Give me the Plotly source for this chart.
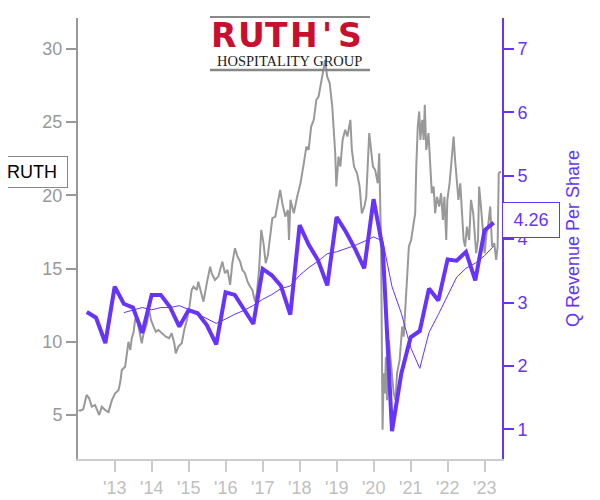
import pandas as pd
import plotly.graph_objects as go

# ---------------- data ----------------
# RUTH share price (decimal year, price)
price_t = [2012.02, 2012.065, 2012.15, 2012.24, 2012.31, 2012.38, 2012.47, 2012.58, 2012.65, 2012.74,
           2012.83, 2012.92, 2013.01, 2013.10, 2013.15, 2013.19, 2013.28, 2013.32, 2013.37, 2013.42,
           2013.46, 2013.51, 2013.55, 2013.59, 2013.64, 2013.69, 2013.73, 2013.78, 2013.86, 2013.93,
           2013.98, 2014.05, 2014.11, 2014.18, 2014.27, 2014.38, 2014.47, 2014.54, 2014.61, 2014.65,
           2014.72, 2014.81, 2014.88, 2014.95, 2015.02, 2015.08, 2015.13, 2015.22, 2015.26, 2015.35,
           2015.40, 2015.49, 2015.58, 2015.62, 2015.71, 2015.80, 2015.91, 2015.98, 2016.05, 2016.12,
           2016.18, 2016.25, 2016.32, 2016.39, 2016.45, 2016.52, 2016.59, 2016.66, 2016.72, 2016.79,
           2016.84, 2016.90, 2016.96, 2017.02, 2017.08, 2017.14, 2017.20, 2017.26, 2017.34, 2017.41,
           2017.47, 2017.53, 2017.61, 2017.68, 2017.71, 2017.75, 2017.84, 2017.93, 2018.02, 2018.11,
           2018.18, 2018.24, 2018.31, 2018.38, 2018.45, 2018.51, 2018.58, 2018.63, 2018.69, 2018.74,
           2018.81, 2018.88, 2018.92, 2018.96, 2018.99, 2019.05, 2019.10, 2019.16, 2019.23, 2019.29,
           2019.37, 2019.41, 2019.47, 2019.55, 2019.62, 2019.68, 2019.75, 2019.80, 2019.88, 2019.93,
           2019.98, 2020.04, 2020.11, 2020.15, 2020.18, 2020.20, 2020.22, 2020.24, 2020.27, 2020.30,
           2020.33, 2020.36, 2020.41, 2020.45, 2020.50, 2020.54, 2020.59, 2020.63, 2020.70, 2020.77,
           2020.81, 2020.86, 2020.90, 2020.95, 2021.01, 2021.07, 2021.12, 2021.15, 2021.19, 2021.23,
           2021.26, 2021.31, 2021.35, 2021.38, 2021.42, 2021.48, 2021.53, 2021.57, 2021.62, 2021.66,
           2021.71, 2021.77, 2021.82, 2021.87, 2021.91, 2021.96, 2021.99, 2022.05, 2022.09, 2022.16,
           2022.20, 2022.25, 2022.29, 2022.34, 2022.38, 2022.43, 2022.47, 2022.52, 2022.58, 2022.63,
           2022.69, 2022.73, 2022.77, 2022.82, 2022.85, 2022.90, 2022.96, 2023.00, 2023.05, 2023.09,
           2023.15, 2023.20, 2023.26, 2023.31, 2023.35, 2023.38, 2023.44]
price_v = [5.34, 5.3, 5.4, 6.37, 6.14, 5.57, 5.68, 5.0, 5.57, 5.34,
           5.2, 6.0, 6.48, 6.7, 7.27, 8.07, 8.3, 8.98, 10.0, 9.44,
           10.24, 10.69, 11.49, 11.71, 11.03, 10.35, 9.9, 10.58, 11.15, 12.17,
           11.49, 11.03, 10.69, 10.8, 10.58, 10.35, 10.24, 10.58, 9.9, 9.21,
           9.67, 9.9, 10.8, 11.49, 12.4, 13.54, 13.76, 13.54, 14.1, 13.31,
           12.74, 14.0, 15.13, 14.68, 14.22, 14.45, 15.47, 14.68, 14.9, 13.88,
           15.36, 16.39, 15.81, 15.47, 14.9, 14.68, 14.1, 13.76, 13.54, 12.74,
           13.31, 14.9, 17.64, 16.73, 15.36, 15.93, 17.3, 18.44, 18.55, 19.69,
           20.37, 19.46, 18.55, 19.0, 16.95, 19.69, 18.77, 19.9, 20.82, 22.18,
           23.32, 23.1, 24.69, 25.15, 26.52, 26.74, 27.66, 28.34, 29.25, 28.11,
           27.66, 26.06, 24.69, 22.87, 20.6, 22.64, 21.96, 23.78, 24.47, 24.01,
           25.15, 23.1, 21.96, 21.5, 20.6, 18.77, 19.23, 19.91, 24.24, 23.1,
           21.96, 21.73, 20.82, 22.87, 19.23, 16.5, 10.12, 4.0, 7.85, 6.48,
           8.98, 6.02, 10.12, 8.98, 7.39, 6.48, 6.02, 7.85, 8.76, 11.03,
           10.35, 12.86, 14.68, 16.5, 16.95, 17.86, 18.77, 21.96, 24.69, 25.72,
           23.78, 25.15, 23.78, 26.17, 23.1, 24.24, 21.96, 20.14, 20.6, 18.77,
           19.9, 19.23, 20.14, 18.32, 19.9, 16.95, 19.69, 20.82, 21.96, 24.01,
           22.41, 21.05, 19.69, 20.82, 18.77, 16.95, 16.5, 17.86, 16.95, 19.69,
           18.77, 17.41, 16.05, 16.95, 20.6, 19.23, 16.95, 16.05, 17.41, 17.86,
           19.23, 16.5, 16.73, 15.59, 16.5, 21.5, 21.62]

# Quarterly revenue per share, Q1 2012 .. Q1 2023
quarter_start = "2012-03-31"
rev_q = [2.85, 2.76, 2.36, 3.25, 2.98, 2.92, 2.52, 3.12, 3.12, 2.93,
         2.62, 2.88, 2.83, 2.64, 2.34, 3.16, 3.12, 2.88, 2.66, 3.53,
         3.43, 3.26, 2.81, 4.22, 3.91, 3.67, 3.27, 4.35, 4.12, 3.85,
         3.54, 4.63, 3.85, 0.97, 1.88, 2.45, 2.55, 3.22, 3.03, 3.68,
         3.66, 3.80, 3.35, 4.14, 4.26]
# Trailing 4-quarter average (thin line), Q1 2013 .. Q1 2023
ttm_start = "2013-03-31"
rev_ttm = [2.84, 2.88, 2.92, 2.885, 2.92, 2.92, 2.95, 2.89, 2.815, 2.74,
           2.67, 2.74, 2.815, 2.875, 2.955, 3.05, 3.125, 3.22, 3.26, 3.43,
           3.55, 3.65, 3.77, 3.80, 3.85, 3.90, 3.965, 4.035, 3.97, 3.25,
           2.83, 2.29, 1.96, 2.525, 2.81, 3.12, 3.40, 3.54, 3.62, 3.74, 3.89]

tick_years = [2013, 2014, 2015, 2016, 2017, 2018, 2019, 2020, 2021, 2022, 2023]
tick_text = ["'13", "'14", "'15", "'16", "'17", "'18", "'19", "'20", "'21", "'22", "'23"]
left_ticks = [5, 10, 15, 20, 25, 30]
right_ticks = [1, 2, 3, 4, 5, 6, 7]
ticker = "RUTH"
last_rev_label = "4.26"
last_price = 21.62


def dec_to_date(t):
    y = int(t)
    a = pd.Timestamp(y, 1, 1)
    b = pd.Timestamp(y + 1, 1, 1)
    return a + (t - y) * (b - a)


price_dates = [dec_to_date(t) for t in price_t]
q_dates = pd.date_range(quarter_start, periods=len(rev_q), freq="QE")
ttm_dates = pd.date_range(ttm_start, periods=len(rev_ttm), freq="QE")

PURPLE = "#6633ff"
GRAY = "#999999"
FONT = "Liberation Sans, Arial, sans-serif"

fig = go.Figure()
fig.add_trace(go.Scatter(x=price_dates, y=price_v, mode="lines",
                         line=dict(color=GRAY, width=2), yaxis="y", showlegend=False))
fig.add_trace(go.Scatter(x=ttm_dates, y=rev_ttm, mode="lines",
                         line=dict(color=PURPLE, width=1), yaxis="y2", showlegend=False))
fig.add_trace(go.Scatter(x=q_dates, y=rev_q, mode="lines",
                         line=dict(color=PURPLE, width=4), yaxis="y2", showlegend=False))

W, H = 600, 500
OFF = 8  # page offset of the figure (body margin)
L, R, T, B = 70, 106, 10, 49
pw, ph = W - L - R, H - T - B


def px(x):
    # page x pixel -> paper coordinate
    return (x - OFF - L) / pw


def py(y):
    # page y pixel -> paper coordinate
    return (H - B - (y - OFF)) / ph


fig.update_layout(
    width=W, height=H,
    margin=dict(l=L, r=R, t=T, b=B, autoexpand=False),
    plot_bgcolor="white", paper_bgcolor="white",
    font=dict(family=FONT, size=18),
    xaxis=dict(
        type="date", automargin=False,
        range=["2012-01-04", "2023-06-21"],
        tickvals=[pd.Timestamp(y, 1, 1) for y in tick_years],
        ticktext=tick_text,
        ticks="outside", ticklen=11, tickcolor="#cccccc", tickwidth=2,
        showline=True, linecolor="#cccccc", linewidth=2,
        showgrid=False, zeroline=False,
        tickfont=dict(color="#c0c0c0", size=18),
    ),
    yaxis=dict(
        automargin=False,
        range=[2.0, 32.1],
        tickvals=left_ticks,
        ticks="outside", ticklen=10, tickcolor=GRAY, tickwidth=2,
        showline=True, linecolor=GRAY, linewidth=2,
        showgrid=False, zeroline=False,
        tickfont=dict(color=GRAY, size=18),
    ),
    yaxis2=dict(
        automargin=False,
        range=[0.53, 7.49],
        tickvals=right_ticks,
        overlaying="y", side="right",
        ticks="outside", ticklen=10, tickcolor=PURPLE, tickwidth=2,
        showline=True, linecolor=PURPLE, linewidth=2,
        showgrid=False, zeroline=False,
        tickfont=dict(color=PURPLE, size=18),
        title=dict(text="Q Revenue Per Share", font=dict(color=PURPLE, size=18), standoff=40),
    ),
)

annotations = []
# ticker label on left (at last price)
annotations.append(dict(
    text=ticker, xref="paper", yref="y", x=px(68), y=last_price,
    xanchor="right", yanchor="middle", showarrow=False,
    font=dict(color="black", size=18, family=FONT),
    bgcolor="white", bordercolor="#888888", borderwidth=1, borderpad=4,
    width=62, height=22,
))
# last revenue value on right
annotations.append(dict(
    text=last_rev_label, xref="paper", yref="y2", x=1.0, y=4.3,
    xanchor="left", yanchor="middle", showarrow=False,
    font=dict(color=PURPLE, size=18, family=FONT),
    bgcolor="white", bordercolor=PURPLE, borderwidth=1, borderpad=4,
    width=48, height=26,
))
# logo text
logo_letters = ["R", "U", "T", "H", "'", "S"]
logo_x = [223, 251, 276, 304, 327, 350]
for ch, lx in zip(logo_letters, logo_x):
    annotations.append(dict(
        text="<b>%s</b>" % ch, xref="paper", yref="paper", x=px(lx), y=py(35),
        xanchor="center", yanchor="middle", showarrow=False,
        font=dict(color="#c8102e", size=33, family="DejaVu Sans, sans-serif"),
    ))
annotations.append(dict(
    text="HOSPITALITY GROUP", xref="paper", yref="paper", x=px(289), y=py(61),
    xanchor="center", yanchor="middle", showarrow=False,
    font=dict(color="#222222", size=14.5, family="Liberation Serif, Times New Roman, serif"),
))
fig.update_layout(annotations=annotations)

fig.add_shape(type="line", xref="paper", yref="paper", x0=px(210), x1=px(370), y0=py(17), y1=py(17),
              line=dict(color="#888888", width=2))
fig.add_shape(type="line", xref="paper", yref="paper", x0=px(210), x1=px(370), y0=py(70), y1=py(70),
              line=dict(color="#888888", width=2.5))

fig.write_html("out.html")
